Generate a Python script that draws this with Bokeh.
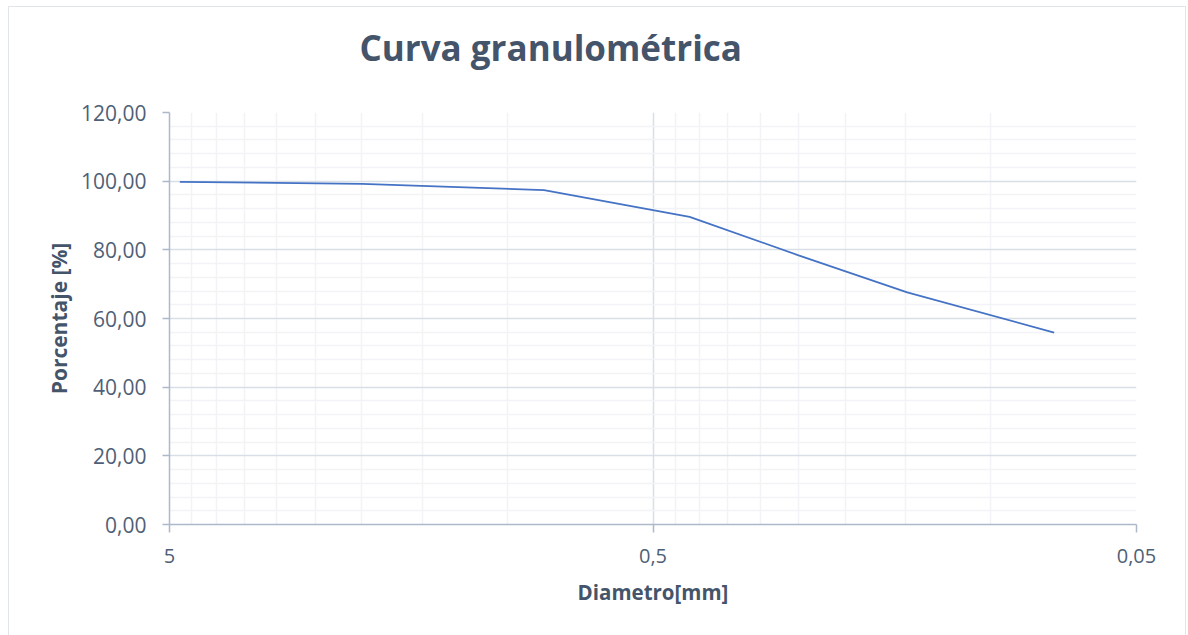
from bokeh.plotting import figure
from bokeh.models import Range1d, FixedTicker, CustomJSTickFormatter, Title
from bokeh.embed import file_html
from bokeh.resources import INLINE

# Data (sieve diameters in mm, percentage passing)
diametro = [4.76, 2.00, 0.84, 0.42, 0.25, 0.149, 0.074]
porcentaje = [99.8, 99.2, 97.4, 89.6, 78.4, 67.6, 55.9]

x_major = [5, 0.5, 0.05]
x_minor = [4.5, 4, 3.5, 3, 2.5, 2, 1.5, 1,
           0.45, 0.4, 0.35, 0.3, 0.25, 0.2, 0.15, 0.1]
y_major = [0, 20, 40, 60, 80, 100, 120]
y_minor = [v for v in range(4, 120, 4) if v % 20 != 0]

TEXT = "#44546A"
TICK_TEXT = "#505F77"
AXIS = "#ADB8C9"
GRID = "#D9DFE7"
MINOR = "#F1F3F6"
BORDER = "#E1E5EA"
FONT = "Open Sans"

p = figure(width=1178, height=629, x_axis_type="log",
           x_range=Range1d(5, 0.05), y_range=Range1d(0, 120),
           output_backend="svg", toolbar_location=None,
           min_border_left=160, min_border_right=51,
           min_border_top=105, min_border_bottom=112)
p.styles = {"border-top": f"1px solid {BORDER}", "border-left": f"1px solid {BORDER}",
            "border-right": f"1px solid {BORDER}",
            "margin-left": "8px", "margin-top": "6px"}

p.outline_line_color = None
p.background_fill_color = "white"
p.border_fill_color = "white"

p.line(diametro, porcentaje, line_color="#4472C4", line_width=1.75)

# spacer between the frame and the title
spacer = Title(text=" ", text_font=FONT, text_font_size="10px", standoff=13)
p.add_layout(spacer, "above")

# Title (outermost)
p.title.text = "Curva granulométrica"
p.title.text_font = FONT
p.title.text_font_style = "bold"
p.title.text_font_size = "35px"
p.title.text_color = TEXT
p.title.align = "left"
p.title.offset = 190
p.title.standoff = 26

# X axis
xa = p.xaxis[0]
xa.ticker = FixedTicker(ticks=x_major, minor_ticks=x_minor)
xa.formatter = CustomJSTickFormatter(code="return tick.toString().replace('.', ',');")
xa.axis_line_color = AXIS
xa.axis_line_width = 1.5
xa.major_tick_line_color = AXIS
xa.major_tick_line_width = 1.5
xa.major_tick_in = 0
xa.major_tick_out = 8
xa.minor_tick_line_color = None
xa.major_label_text_font = FONT
xa.major_label_text_font_size = "20px"
xa.major_label_text_color = TICK_TEXT
xa.major_label_standoff = 16
xa.axis_label = "Diametro[mm]"
xa.axis_label_text_font = FONT
xa.axis_label_text_font_style = "bold"
xa.axis_label_text_font_size = "20.5px"
xa.axis_label_text_color = TEXT
xa.axis_label_standoff = 12

# Y axis
ya = p.yaxis[0]
ya.ticker = FixedTicker(ticks=y_major, minor_ticks=y_minor)
ya.formatter = CustomJSTickFormatter(code="return tick.toFixed(2).replace('.', ',');")
ya.axis_line_color = AXIS
ya.axis_line_width = 1.5
ya.major_tick_line_color = AXIS
ya.major_tick_line_width = 1.5
ya.major_tick_in = 0
ya.major_tick_out = 7
ya.minor_tick_line_color = None
ya.major_label_text_font = FONT
ya.major_label_text_font_size = "21px"
ya.major_label_text_color = TICK_TEXT
ya.major_label_standoff = 16
ya.axis_label = "Porcentaje [%]"
ya.axis_label_text_font = FONT
ya.axis_label_text_font_style = "bold"
ya.axis_label_text_font_size = "21px"
ya.axis_label_text_color = TEXT
ya.axis_label_standoff = 5

# Grids
for g in (p.xgrid[0], p.ygrid[0]):
    g.grid_line_color = GRID
    g.grid_line_width = 1.5
    g.minor_grid_line_color = MINOR
    g.minor_grid_line_width = 1.5
p.xgrid[0].ticker = xa.ticker
p.ygrid[0].ticker = ya.ticker

open("out.html", "w").write(file_html(p, INLINE))
